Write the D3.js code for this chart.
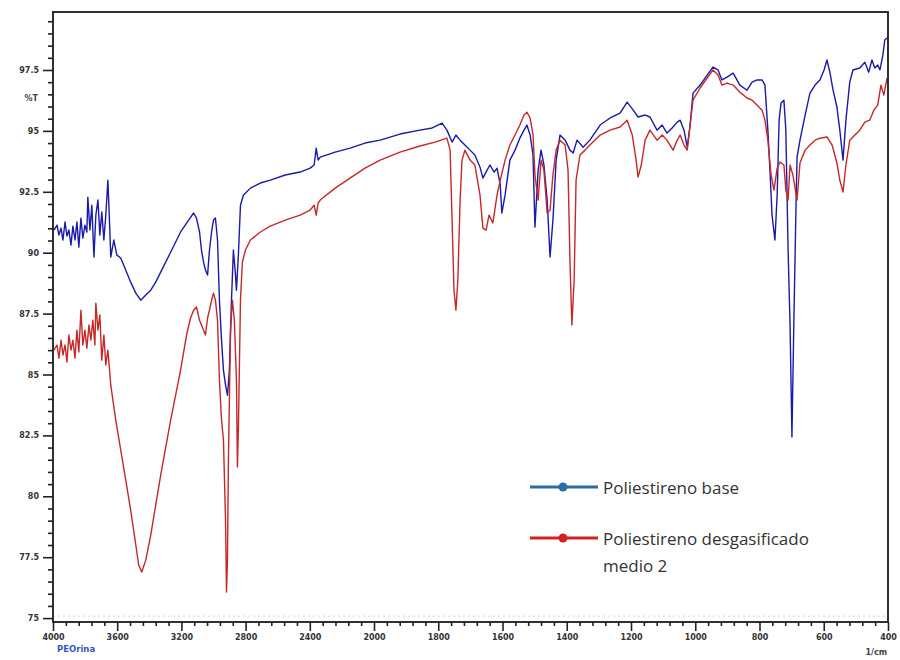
<!DOCTYPE html>
<html>
<head>
<meta charset="utf-8">
<script src="https://cdn.jsdelivr.net/npm/d3@7"></script>
<style>
  body { margin: 0; background: #fff; }
  svg { display: block; }
</style>
</head>
<body>
<svg id="chart" width="900" height="660"></svg>
<script>
// FTIR spectra (wavenumber in 1/cm, transmittance in %T)
const baseWavenumber = [3994,3975,3963,3950,3938,3925,3913,3901,3888,3876,3863,3851,3839,3826,3814,3801,3789,3783,3770,3758,3745,3733,3720,3708,3696,3683,3671,3658,3646,3640,3621,3602,3578,3547,3516,3484,3453,3422,3391,3360,3329,3267,3205,3155,3124,3106,3087,3075,3062,3050,3037,3025,3012,3000,2988,2975,2963,2950,2938,2925,2913,2901,2888,2876,2863,2857,2845,2832,2814,2770,2708,2646,2553,2460,2398,2373,2360,2348,2335,2242,2149,2056,1981,1919,1857,1819,1788,1773,1757,1745,1732,1717,1701,1686,1670,1661,1648,1639,1626,1617,1607,1602,1592,1577,1561,1546,1533,1524,1514,1505,1499,1489,1480,1471,1461,1452,1443,1433,1421,1405,1390,1380,1368,1349,1328,1296,1265,1234,1212,1193,1178,1156,1141,1119,1103,1088,1072,1056,1047,1035,1025,1016,1007,985,963,945,929,917,901,882,861,839,823,808,792,783,774,767,761,752,745,739,733,724,718,711,705,699,693,686,683,674,658,643,627,612,599,590,581,571,559,550,540,531,519,509,488,472,460,450,441,432,425,416,410,403];
const baseTransmittance = [90.93,91.13,90.72,91.01,90.52,91.26,90.68,90.93,90.31,91.09,90.52,91.26,90.23,91.42,90.60,91.13,90.85,92.28,90.93,91.95,89.82,91.54,92.16,90.72,91.67,90.52,91.54,92.98,90.93,89.82,90.52,89.90,89.78,89.29,88.79,88.34,88.05,88.26,88.46,88.79,89.20,90.02,90.85,91.34,91.63,91.42,90.85,90.11,89.61,89.29,89.08,90.11,90.85,91.34,91.42,90.52,88.05,86.41,85.18,84.56,84.15,85.18,88.05,90.11,89.08,88.46,89.90,91.95,92.36,92.65,92.86,92.98,93.19,93.31,93.47,93.60,94.29,93.80,93.92,94.13,94.29,94.50,94.62,94.87,95.03,95.12,95.32,95.03,94.54,94.83,94.62,94.42,94.21,94.01,93.51,93.06,93.39,93.60,93.31,93.47,92.78,91.63,92.36,93.80,94.21,94.70,95.03,95.24,94.83,94.01,91.05,93.39,94.21,93.60,92.16,89.82,91.34,93.80,94.83,94.62,94.21,94.09,94.62,94.33,94.62,95.24,95.53,95.73,96.18,95.85,95.57,95.65,95.57,95.03,95.24,94.91,95.12,95.36,95.44,95.03,94.33,95.24,96.55,96.88,97.29,97.62,97.50,97.09,97.21,97.37,96.88,96.67,97.00,97.09,97.09,96.88,95.03,93.27,91.54,90.52,92.36,95.44,96.14,96.26,95.03,90.11,87.11,82.43,87.23,92.16,93.92,94.62,95.65,96.55,96.88,97.09,97.50,97.91,97.41,96.67,95.98,95.03,93.80,95.44,97.00,97.50,97.58,97.82,97.41,97.91,97.58,97.70,97.50,98.11,98.73,98.81];

const degassedWavenumber = [3994,3975,3963,3950,3938,3925,3913,3901,3888,3876,3863,3851,3839,3826,3814,3801,3789,3776,3764,3752,3739,3733,3720,3708,3696,3683,3671,3658,3640,3609,3578,3547,3516,3484,3466,3447,3422,3391,3360,3329,3267,3205,3168,3143,3124,3106,3087,3075,3062,3050,3037,3025,3012,3000,2988,2975,2963,2950,2938,2925,2919,2913,2907,2894,2882,2870,2857,2851,2845,2832,2820,2801,2770,2708,2646,2553,2460,2398,2373,2360,2348,2335,2242,2149,2056,1981,1919,1857,1810,1773,1763,1757,1751,1745,1739,1732,1726,1717,1701,1686,1670,1661,1651,1642,1630,1617,1607,1592,1577,1561,1546,1533,1524,1514,1505,1499,1489,1480,1471,1461,1452,1443,1433,1421,1405,1396,1390,1384,1377,1371,1359,1343,1328,1296,1265,1234,1212,1196,1184,1178,1168,1156,1141,1119,1103,1088,1069,1056,1047,1035,1025,1016,1007,985,963,945,929,917,901,882,861,839,823,808,792,783,774,764,755,745,736,724,718,711,705,696,683,674,658,643,627,612,590,574,559,550,540,531,519,503,488,472,457,444,432,422,413,403];
const degassedTransmittance = [86.00,86.21,85.67,86.41,85.80,86.21,85.51,86.62,86.00,86.41,85.67,86.82,85.92,87.64,86.21,86.82,86.08,87.03,86.41,87.23,86.21,87.93,86.82,87.44,85.59,86.62,85.39,86.00,84.56,83.13,81.90,80.67,79.43,78.00,77.18,76.89,77.38,78.41,79.64,80.87,83.13,85.18,86.62,87.32,87.64,87.77,87.23,87.03,86.82,86.62,87.32,87.64,88.05,88.34,88.05,87.23,84.77,83.13,82.31,79.02,76.07,77.38,81.49,86.82,88.05,87.23,84.77,81.20,82.72,88.05,89.61,90.11,90.52,90.85,91.09,91.34,91.54,91.75,91.95,91.54,92.04,92.16,92.65,93.06,93.47,93.80,94.13,94.38,94.54,94.70,94.21,91.34,88.46,87.64,88.88,92.16,93.80,94.21,93.80,93.60,92.36,91.01,90.93,91.54,91.22,92.36,92.98,93.80,94.42,94.83,95.24,95.65,95.77,95.53,94.83,93.19,92.16,93.80,93.39,91.63,91.75,93.19,94.21,94.62,94.42,93.39,89.70,87.03,88.88,92.98,94.01,94.21,94.42,94.83,95.03,95.16,95.44,94.83,93.80,93.10,93.60,94.62,95.03,94.62,94.83,94.62,94.21,94.62,94.83,94.42,94.21,95.24,96.26,96.76,97.17,97.50,97.29,96.88,96.96,96.88,96.59,96.35,96.26,96.06,95.85,95.44,94.62,93.19,92.57,93.47,93.72,93.60,92.57,92.16,93.60,93.19,92.16,93.68,94.21,94.42,94.62,94.70,94.75,94.42,93.68,92.98,92.49,93.60,94.62,94.83,95.03,95.36,95.44,95.85,96.06,96.88,96.47,97.17];

const wavenumberTicks = [4000,3600,3200,2800,2400,2000,1800,1600,1400,1200,1000,800,600,400];
const transmittanceTicks = [75,77.5,80,82.5,85,87.5,90,92.5,95,97.5];
const legendLabels = [["Poliestireno base"], ["Poliestireno desgasificado", "medio 2"]];
const sampleName = "PEOrina";
const xUnit = "1/cm";
const yUnit = "%T";

const plot = { left: 53, right: 888, top: 12, bottom: 622 };
const lineColors = ["#1a1aa8", "#c62828"];
const legendColors = ["#2a6ea8", "#d42121"];

const svg = d3.select("#chart");

// Split wavenumber scale: 4000-2000 compressed, 2000-400 expanded
const x = d3.scaleLinear()
  .domain([4000, 2000, 400])
  .range([plot.left, 374, plot.right]);
const y = d3.scaleLinear()
  .domain([74.84, 99.88])
  .range([plot.bottom, plot.top]);

// minor tick values: 5 subdivisions between labelled ticks
function subdivide(ticks, n) {
  const out = [];
  for (let i = 0; i < ticks.length - 1; i++) {
    for (let k = 1; k < n; k++) out.push(ticks[i] + (ticks[i + 1] - ticks[i]) * k / n);
  }
  return out;
}
const xMinor = subdivide(wavenumberTicks, 5);
const yMinorAll = d3.range(75, 99.9, 0.5).filter(v => !transmittanceTicks.some(t => Math.abs(t - v) < 1e-6));

// faint dotted baseline
svg.append("line")
  .attr("x1", plot.left).attr("x2", plot.right)
  .attr("y1", y(75) - 2).attr("y2", y(75) - 2)
  .attr("stroke", "#d6d6d6").attr("stroke-width", 1).attr("stroke-dasharray", "2,3");

// spectra
const seriesData = [
  baseWavenumber.map((w, i) => [w, baseTransmittance[i]]),
  degassedWavenumber.map((w, i) => [w, degassedTransmittance[i]])
];
const line = d3.line().x(d => x(d[0])).y(d => y(d[1]));
svg.append("g").selectAll("path")
  .data(seriesData)
  .join("path")
  .attr("d", line)
  .attr("fill", "none")
  .attr("stroke", (d, i) => lineColors[i])
  .attr("stroke-width", 1.4)
  .attr("stroke-linejoin", "round");

// axes
const yAxisMajor = d3.axisLeft(y).tickValues(transmittanceTicks).tickSize(10).tickPadding(4)
  .tickFormat(d => d3.format("~g")(d));
const yAxisMinor = d3.axisLeft(y).tickValues(yMinorAll).tickSize(5).tickFormat("");
const xAxisMajor = d3.axisBottom(x).tickValues(wavenumberTicks).tickSize(9).tickPadding(3)
  .tickFormat(d => String(d));
const xAxisMinor = d3.axisBottom(x).tickValues(xMinor).tickSize(4).tickFormat("");

function styleAxis(g) {
  g.select(".domain").remove();
  g.selectAll("line").attr("stroke", "#222").attr("stroke-width", 1.6);
  g.selectAll("text").attr("fill", "#333").attr("font-family", "DejaVu Sans, sans-serif")
    .attr("font-size", 8).attr("font-weight", "bold");
}
svg.append("g").attr("transform", `translate(${plot.left},0)`).call(yAxisMinor).call(styleAxis);
svg.append("g").attr("transform", `translate(${plot.left},0)`).call(yAxisMajor).call(styleAxis);
svg.append("g").attr("transform", `translate(0,${plot.bottom})`).call(xAxisMinor).call(styleAxis);
svg.append("g").attr("transform", `translate(0,${plot.bottom})`).call(xAxisMajor).call(styleAxis);

// frame
svg.append("rect")
  .attr("x", plot.left).attr("y", plot.top)
  .attr("width", plot.right - plot.left).attr("height", plot.bottom - plot.top)
  .attr("fill", "none").attr("stroke", "#1a1a1a").attr("stroke-width", 1.8);

// axis units and sample name
svg.append("text").attr("x", 38).attr("y", 101).attr("text-anchor", "end")
  .attr("font-family", "DejaVu Sans, sans-serif").attr("font-size", 8).attr("font-weight", "bold")
  .attr("fill", "#444").text(yUnit);
svg.append("text").attr("x", 887).attr("y", 655).attr("text-anchor", "end")
  .attr("font-family", "DejaVu Sans, sans-serif").attr("font-size", 8).attr("font-weight", "bold")
  .attr("fill", "#444").text(xUnit);
svg.append("text").attr("x", 57).attr("y", 652)
  .attr("font-family", "DejaVu Sans, sans-serif").attr("font-size", 8.5).attr("font-weight", "bold")
  .attr("fill", "#3a55c0").text(sampleName);

// legend
const legendRows = [487, 538];
const legend = svg.append("g");
legendLabels.forEach((lines, i) => {
  const cy = legendRows[i];
  legend.append("line").attr("x1", 530).attr("x2", 598).attr("y1", cy).attr("y2", cy)
    .attr("stroke", legendColors[i]).attr("stroke-width", 3);
  legend.append("circle").attr("cx", 563).attr("cy", cy).attr("r", 4.5).attr("fill", legendColors[i]);
  lines.forEach((t, j) => {
    legend.append("text").attr("x", 603).attr("y", cy + 7 + j * 27)
      .attr("font-family", "Open Sans, sans-serif").attr("font-size", 17)
      .attr("fill", "#333").text(t);
  });
});
</script>
</body>
</html>
